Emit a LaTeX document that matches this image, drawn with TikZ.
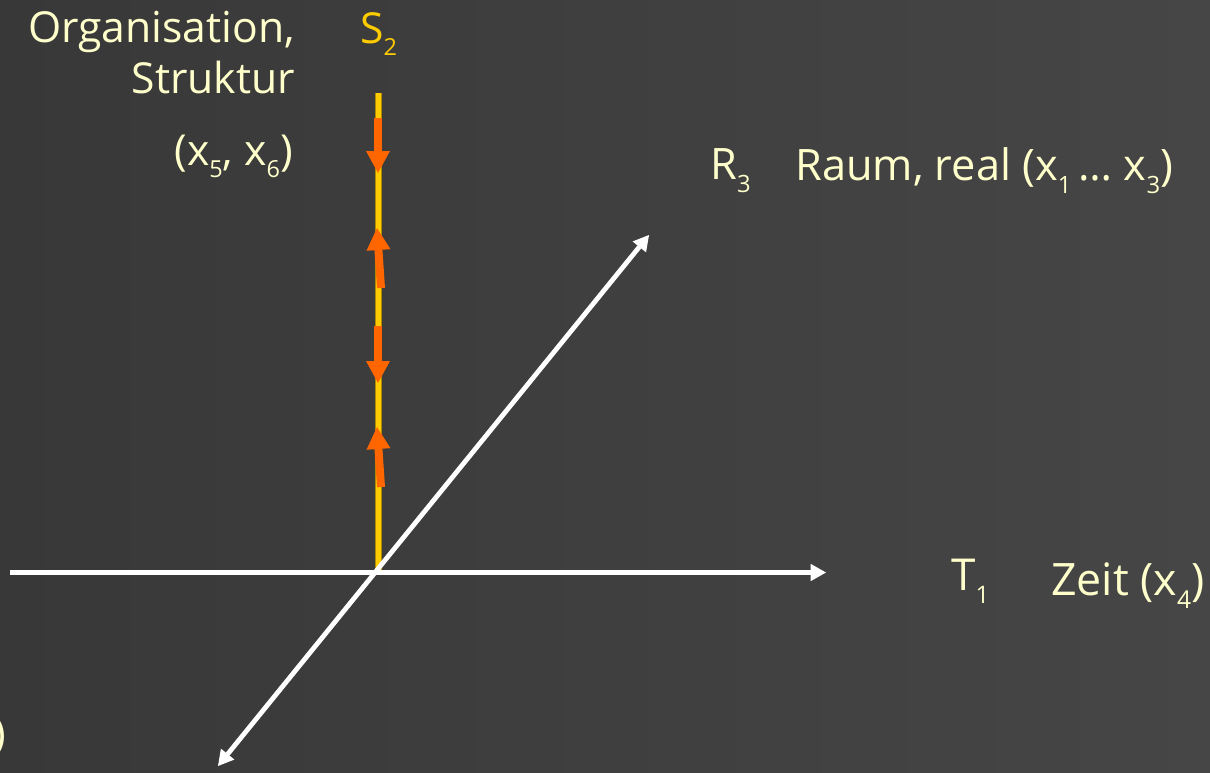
\documentclass[tikz,border=0pt]{standalone}
\usepackage{fontspec}
\setmainfont{Open Sans}
\usetikzlibrary{arrows.meta}
\definecolor{bgl}{HTML}{383838}
\definecolor{bgr}{HTML}{464646}
\definecolor{txt}{HTML}{FFFFCC}
\definecolor{gold}{HTML}{FFCC00}
\definecolor{darkgold}{HTML}{B08A00}
\definecolor{orng}{HTML}{FF6600}
\newcommand\subx[1]{\raisebox{-0.3em}{\scalebox{0.55}{#1}}}
\tikzset{
  lbl/.style={inner sep=0pt, text=txt},
  axis/.style={draw=white, line width=3.6pt, -{Triangle[width=13pt,length=11.5pt,line width=0pt]}},
  axis2/.style={draw=white, line width=3.6pt, {Triangle[width=13pt,length=11.5pt,line width=0pt]}-{Triangle[width=13pt,length=11.5pt,line width=0pt]}},
  flow/.style={draw=orng, line width=6pt, -{Triangle[width=18pt,length=16.5pt,line width=0pt]}},
}
\begin{document}
\begin{tikzpicture}[x=0.75pt,y=-0.75pt]
\useasboundingbox (0,0) rectangle (1210,772);
\shade[left color=bgl, right color=bgr] (0,0) rectangle (1210,772);
% texts
\node[lbl, anchor=base east, font=\fontsize{32}{38}\selectfont] (org) at (295,42) {Organisation,};
\node[lbl, anchor=base east, font=\fontsize{32}{38}\selectfont] (str) at (295,93) {Struktur};
\node[lbl, anchor=base east, font=\fontsize{32}{38}\selectfont] (x56) at (293,165) {(x\subx{5}, x\subx{6})};
\node[lbl, text=gold, anchor=base west, font=\fontsize{32}{38}\selectfont] (s2) at (360,43) {S\subx{2}};
\node[lbl, anchor=base west, font=\fontsize{32.5}{38}\selectfont] (r3) at (710,179) {R\subx{3}};
\node[lbl, anchor=base west, font=\fontsize{32.5}{38}\selectfont] (raum) at (795,180) {Raum, real (x\subx{1}\,…\ x\subx{3})};
\node[lbl, anchor=base west, font=\fontsize{33}{38}\selectfont] (t1) at (951,590) {T\subx{1}};
\node[lbl, anchor=base west, font=\fontsize{33.5}{38}\selectfont] (zeit) at (1051,595) {Zeit (x\subx{4})};
\node[lbl, anchor=base east, font=\fontsize{32}{38}\selectfont] (paren) at (6,748) {)};
% coordinates
\coordinate (O) at (378.5,571);
\coordinate (stop) at (378.5,93);
\coordinate (hl) at (10,572.5);
\coordinate (hr) at (826,572.5);
\coordinate (dl) at (218,766);
\coordinate (du) at (649,235);
% S2 axis
\draw[darkgold, line width=5pt] (O) -- (stop);
\draw[gold, line width=3.6pt] (O) -- (stop);
% flow arrows
\coordinate (a1s) at (378,118); \coordinate (a1e) at (378,173);
\coordinate (a2s) at (381,288); \coordinate (a2e) at (377,228);
\coordinate (a3s) at (378,326); \coordinate (a3e) at (378,383);
\coordinate (a4s) at (381,487); \coordinate (a4e) at (377,427);
\draw[flow] (a1s) -- (a1e);
\draw[flow] (a2s) -- (a2e);
\draw[flow] (a3s) -- (a3e);
\draw[flow] (a4s) -- (a4e);
% axes
\draw[axis] (hl) -- (hr);
\draw[axis2] (dl) -- (du);
\end{tikzpicture}
\end{document}
